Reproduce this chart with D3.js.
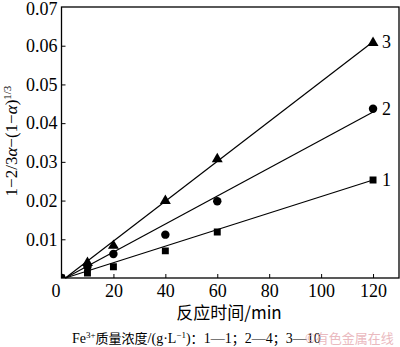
<!DOCTYPE html>
<html><head><meta charset="utf-8">
<script src="https://cdn.jsdelivr.net/npm/d3@7"></script>
<style>
html,body{margin:0;padding:0;background:#fff;}
svg{display:block;}
</style></head>
<body>
<svg id="c" width="400" height="347"></svg>
<script>
// ---- data ----
const times = [0, 10, 20, 40, 60, 120];
const series1 = [0, 0.0013, 0.0029, 0.0070, 0.0119, 0.0253]; // squares, 1 g/L
const series2 = [0, 0.0029, 0.0062, 0.0112, 0.0198, 0.0437]; // circles, 4 g/L
const series3 = [0, 0.0042, 0.0086, 0.0202, 0.0310, 0.0610]; // triangles, 10 g/L
const seriesLabels = ["1", "2", "3"];
const fitStartX = [1.5, 1.5, 1.5];
const fitEndX = [120, 120, 120];
const fitEndY = [0.0253, 0.0429, 0.0610];
const xTicks = [0, 20, 40, 60, 80, 100, 120];
const yTicks = [0.01, 0.02, 0.03, 0.04, 0.05, 0.06, 0.07];
const xTitle = "反应时间/min";
const noteText = ["Fe", "3+", "质量浓度", "/(g·L", "−1", ")", "：", "1—1", "；", "2—4", "；", "3—10"];
const watermark = "©有色金属在线";

const svg = d3.select("#c");
const L = 61.5, R = 399, T = 7, B = 278;
const x = d3.scaleLinear().domain([0, 130]).range([L, R]);
const y = d3.scaleLinear().domain([0, 0.07]).range([B, T]);
const serif = "'Liberation Serif','Times New Roman',serif";
const cjk = "'Noto Sans CJK SC'";

svg.append("defs").append("clipPath").attr("id", "plot")
  .append("rect").attr("x", L).attr("y", T).attr("width", R - L).attr("height", B - T);

// frame
svg.append("rect").attr("x", L).attr("y", T).attr("width", R - L).attr("height", B - T)
  .attr("fill", "none").attr("stroke", "#000").attr("stroke-width", 1.3);

// axes (ticks inward)
const xAxis = svg.append("g").attr("transform", `translate(0,${B})`)
  .call(d3.axisBottom(x).tickValues(xTicks).tickSizeInner(-4).tickSizeOuter(0).tickPadding(6).tickFormat(d3.format("d")));
const yAxis = svg.append("g").attr("transform", `translate(${L},0)`)
  .call(d3.axisLeft(y).tickValues(yTicks).tickSizeInner(-4).tickSizeOuter(0).tickPadding(4).tickFormat(d3.format(".2f")));
[xAxis, yAxis].forEach(g => {
  g.select(".domain").remove();
  g.selectAll("line").attr("stroke", "#000").attr("stroke-width", 1);
  g.selectAll("text").attr("font-family", serif).attr("font-size", 18).attr("fill", "#000");
});
xAxis.selectAll(".tick").filter(d => d === 0).select("line").remove();
xAxis.selectAll(".tick").filter(d => d === 0).select("text").attr("dx", -6);
yAxis.selectAll(".tick").filter(d => d === 0.07).select("line").remove();
yAxis.selectAll(".tick").filter(d => d === 0.07).select("text").attr("dy", "0.42em");

// fit lines
const allSeries = [series1, series2, series3];
allSeries.forEach((s, i) => {
  svg.append("line")
    .attr("x1", x(fitStartX[i])).attr("y1", y(0))
    .attr("x2", x(fitEndX[i])).attr("y2", y(fitEndY[i]))
    .attr("stroke", "#000").attr("stroke-width", 1.2);
});

// markers
const symType = [d3.symbolSquare, d3.symbolCircle, d3.symbolTriangle];
const symSize = [48, 56, 52];
allSeries.forEach((s, i) => {
  svg.append("g").attr("clip-path", "url(#plot)")
    .selectAll("path").data(times.map((t, j) => [t, s[j]])).join("path")
    .attr("d", d3.symbol().type(symType[i]).size(symSize[i]))
    .attr("transform", d => `translate(${x(d[0])},${y(d[1]) + (i === 2 ? 1 : 0)})`)
    .attr("fill", "#000");
});

// series labels
allSeries.forEach((s, i) => {
  svg.append("text").attr("x", x(times[times.length - 1]) + 9).attr("y", y(s[s.length - 1]))
    .attr("dy", "0.35em").attr("font-family", serif).attr("font-size", 18).text(seriesLabels[i]);
});

// y title
const yt = svg.append("text").attr("transform", "translate(17,141) rotate(-90)")
  .attr("text-anchor", "middle").attr("font-family", serif).attr("font-size", 17);
yt.append("tspan").text("1−2/3");
yt.append("tspan").attr("font-style", "italic").text("α");
yt.append("tspan").text("−(1−");
yt.append("tspan").attr("font-style", "italic").text("α");
yt.append("tspan").text(")");
yt.append("tspan").attr("font-size", 11).attr("dy", -6).text("1/3");

// x title
svg.append("text").attr("x", 229).attr("y", 319).attr("text-anchor", "middle")
  .attr("font-family", cjk + ", " + serif).attr("font-size", 17).text(xTitle);

// note
const nt = svg.append("text").attr("x", 72).attr("y", 343)
  .attr("font-family", serif).attr("font-size", 14);
nt.append("tspan").text(noteText[0]);
nt.append("tspan").attr("font-size", 9).attr("dy", -5).text(noteText[1]);
nt.append("tspan").attr("dy", 5).attr("font-family", cjk).attr("font-size", 13).text(noteText[2]);
nt.append("tspan").text(noteText[3]);
nt.append("tspan").attr("font-size", 9).attr("dy", -5).text(noteText[4]);
nt.append("tspan").attr("dy", 5).text(noteText[5]);
nt.append("tspan").attr("font-family", cjk).attr("font-size", 13).text(noteText[6]);
nt.append("tspan").text(noteText[7]);
nt.append("tspan").attr("font-family", cjk).attr("font-size", 13).text(noteText[8]);
nt.append("tspan").text(noteText[9]);
nt.append("tspan").attr("font-family", cjk).attr("font-size", 13).text(noteText[10]);
nt.append("tspan").text(noteText[11]);

// watermark
svg.append("text").attr("x", 305).attr("y", 343).attr("font-family", cjk)
  .attr("font-size", 13).attr("fill", "#e6a9b0").attr("opacity", 0.8).text(watermark);
</script>
</body></html>
